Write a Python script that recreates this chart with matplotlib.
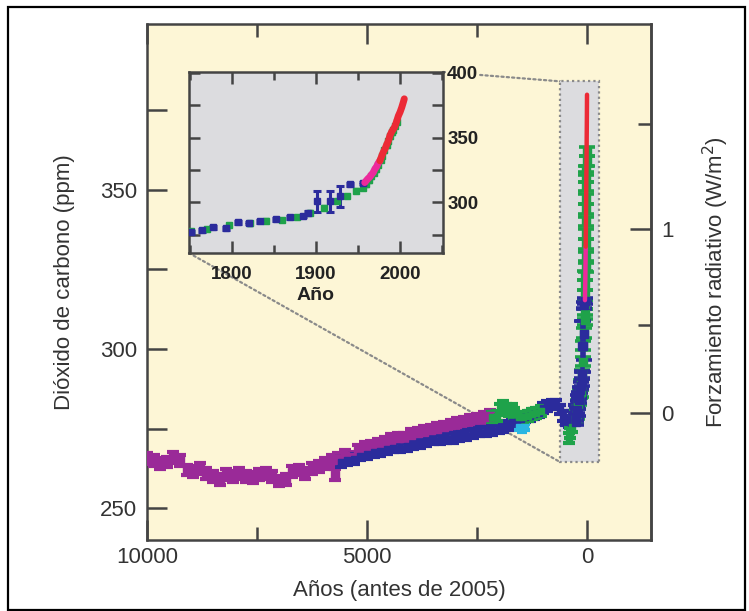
import numpy as np
import matplotlib
matplotlib.use("Agg")
import matplotlib.pyplot as plt
from matplotlib.patches import Rectangle, ConnectionPatch
from matplotlib.ticker import MultipleLocator, FixedLocator

plt.rcParams['font.family'] = ['Liberation Sans', 'DejaVu Sans']

# ---- ice core data, years before 2005 ----
purple_yr = [10000, 9850, 9700, 9550, 9400, 9250, 9100, 8950, 8800, 8650, 8500, 8350,
             8200, 8050, 7900, 7750, 7600, 7450, 7300, 7150, 7000, 6850, 6700, 6550,
             6400, 6250, 6100, 5950, 5800, 5720, 5650, 5500, 5350, 5200, 5050, 4900,
             4750, 4600, 4450, 4300, 4150, 4000, 3850, 3700, 3550, 3400, 3250, 3100,
             2950, 2800, 2650, 2500, 2350, 2200]
purple_ppm = [265.5, 265, 264, 264.5, 266, 265, 262, 261.5, 262.5, 261, 260, 259,
              260.5, 260, 261, 260, 259.5, 260.5, 261, 260, 258.5, 259, 261.5, 262,
              261, 262.5, 263, 264, 265, 260.5, 265.5, 266.5, 266, 268, 269, 269.5,
              270, 270.5, 271.5, 272, 272, 273, 273.5, 274, 274.5, 275, 275.5, 276,
              276.5, 277, 277.5, 278, 278.5, 279]

blue_yr = [5600, 5450, 5300, 5150, 5000, 4850, 4700, 4550, 4400, 4250, 4100, 3950,
           3800, 3650, 3500, 3350, 3200, 3050, 2900, 2750, 2600, 2450, 2300, 2150,
           2000, 1900, 1800, 1700, 1600, 1500, 1400, 1300, 1200, 1100, 1000, 900,
           800, 700, 620, 550, 480, 420, 350, 300]
blue_ppm = [264.5, 265, 265.5, 266.5, 267, 267.5, 268, 268.5, 269, 269, 269.5, 270,
            270.5, 271, 271.5, 271.5, 272, 272, 272.5, 273, 273.5, 274, 274, 274.5,
            275, 275.5, 276, 277, 277, 278, 278.5, 279, 279.5, 280, 281.5, 282,
            282.5, 282.5, 281, 279, 277.5, 277, 279, 281]

green_yr = [2150, 2050, 1980, 1900, 1850, 1780, 1700, 1650, 1550, 1450, 1350, 1250,
            1150, 1050, 420, 380, 330]
green_ppm = [278.5, 279, 281, 282, 281, 280.5, 281, 280, 278.5, 278.5, 279, 279.5,
             280, 280.5, 272, 273.5, 275.5]

cyan_yr = [1550, 1480, 1400]
cyan_ppm = [275.5, 275, 275.5]

# ---- last 250 years, calendar years ----
ld_blue_yr = [1751, 1765, 1777, 1793, 1807, 1820, 1833, 1853, 1869, 1885, 1890,
              1901, 1917, 1929, 1940, 1956]
ld_blue_ppm = [277, 278.5, 280.8, 280, 284.6, 284, 285.4, 287, 288.5, 289.5, 292,
               300.8, 300.8, 304.6, 313.8, 315]
ld_blue_err = [1, 1, 1, 1, 1, 1, 1, 1, 1, 1, 1, 8, 8, 8, 1, 1]

ld_green_yr = [1751, 1770, 1797, 1821, 1841, 1860, 1877, 1893, 1909, 1925, 1937,
               1948, 1956, 1960, 1963, 1966, 1969, 1971, 1974, 1977, 1979, 1981,
               1984, 1986, 1988, 1990, 1992, 1994, 1996]
ld_green_ppm = [278, 279.5, 282.6, 283.8, 286, 286.5, 288.6, 292, 296, 301, 305,
                309, 311, 314, 317, 320, 323, 325.5, 329, 333, 336, 340,
                344, 347, 351, 354, 356, 359, 362]

ml_yr = [1958, 1960, 1962, 1964, 1966, 1968, 1970, 1972, 1974, 1976, 1978, 1980,
         1982, 1984, 1986, 1988, 1990, 1992, 1994, 1996, 1998, 2000, 2002, 2004, 2005]
ml_ppm = [315.3, 316.9, 318.4, 319.6, 321.4, 323.0, 325.7, 327.5, 330.2, 332.1,
          335.4, 338.7, 341.1, 344.4, 347.2, 351.6, 354.4, 356.4, 358.8, 362.6,
          366.7, 369.6, 373.2, 377.5, 379.8]

PURPLE = '#9a2a98'
BLUE = '#2b2b9c'
GREEN = '#1fa24a'
CYAN = '#2ab6e2'
MAGENTA = '#ec2a9c'
RED = '#ec2a36'
TXT = '#333333'
SPINE = '#444444'
BG = '#fdf6d6'
GREY = '#dcdcdf'

fig = plt.figure(figsize=(7.49, 6.11), dpi=100)
ax = fig.add_axes([0.1963, 0.1162, 0.6729, 0.8445])
ax.set_facecolor(BG)

def eb(a, x, y, err, col, cap, lw=3.0, ms=5, z=3):
    a.errorbar(x, y, yerr=err, fmt='s', ms=ms, mfc=col, mec=col, ecolor=col,
               elinewidth=lw, capsize=cap, capthick=lw, zorder=z)

eb(ax, purple_yr, purple_ppm, 1.7, PURPLE, 4.3, ms=5.5)
eb(ax, blue_yr, blue_ppm, 1.5, BLUE, 4.0)
eb(ax, cyan_yr, cyan_ppm, 1.0, CYAN, 3.5)
eb(ax, green_yr, green_ppm, 1.6, GREEN, 4.0)

# last 250 years squeezed near 0
bp = lambda yrs: 2005 - np.array(yrs)
eb(ax, bp(ld_green_yr), ld_green_ppm, 1.5, GREEN, 5.5, lw=2.6, ms=6)
eb(ax, bp(ld_blue_yr), ld_blue_ppm, ld_blue_err, BLUE, 5.5, lw=2.6, ms=6)
ml_bp = bp(ml_yr)
ax.plot(ml_bp[:10], ml_ppm[:10], color=MAGENTA, lw=3.2, zorder=4, solid_capstyle='round')
ax.plot(ml_bp[9:], ml_ppm[9:], color=RED, lw=3.2, zorder=4, solid_capstyle='round')

ax.set_xlim(10000, -1455)
ax.set_ylim(240, 402)

# zoom box
bx0, bx1, by0, by1 = 614, -273, 264.5, 384
ax.add_patch(Rectangle((bx1, by0), bx0 - bx1, by1 - by0, facecolor=GREY,
                       edgecolor='#8a8a8a', linestyle=(0, (1, 1.4)), lw=1.6, zorder=1))

ax.xaxis.set_major_locator(MultipleLocator(5000))
ax.xaxis.set_minor_locator(MultipleLocator(2500))
ax.yaxis.set_major_locator(FixedLocator([250, 300, 350]))
ax.yaxis.set_minor_locator(FixedLocator([275, 325, 375]))
ax.tick_params(which='both', direction='in', top=True, right=False, color=SPINE,
               width=1.8, labelsize=16, labelcolor=TXT)
ax.tick_params(axis='x', which='major', length=14.5, pad=5)
ax.tick_params(axis='x', which='minor', length=9.5)
ax.tick_params(axis='y', which='both', length=14.5, pad=7)
for s in ax.spines.values():
    s.set_color(SPINE)
    s.set_linewidth(1.8)

ax.set_xlabel('Años (antes de 2005)', fontsize=16, color=TXT, labelpad=9)
ax.set_ylabel('Dióxido de carbono (ppm)', fontsize=16, color=TXT, labelpad=18)

sec = ax.secondary_yaxis('right', functions=(lambda c: 5.35 * np.log(np.clip(c, 1, None) / 280.0),
                                             lambda f: 280.0 * np.exp(f / 5.35)))
sec.set_yticks([0, 1])
sec.set_yticks([0.5, 1.5], minor=True)
sec.tick_params(which='both', direction='in', color=SPINE, width=1.8, labelsize=16,
                labelcolor=TXT, pad=7)
sec.tick_params(which='major', length=15)
sec.tick_params(which='minor', length=9.5)
sec.spines['right'].set_color(SPINE)
sec.spines['right'].set_linewidth(1.8)
sec.set_ylabel('Forzamiento radiativo (W/m$^2$)', fontsize=16, color=TXT, labelpad=20)

# inset
axins = fig.add_axes([0.2523, 0.5859, 0.3391, 0.2963])
axins.set_facecolor(GREY)
eb(axins, ld_green_yr, ld_green_ppm, 1.0, GREEN, 2.0, lw=2.4, ms=4)
eb(axins, ld_blue_yr, ld_blue_ppm, ld_blue_err, BLUE, 3.0, lw=2.2, ms=4)
axins.plot(ml_yr[:10], ml_ppm[:10], color=MAGENTA, lw=5, zorder=4, solid_capstyle='round')
axins.plot(ml_yr[9:], ml_ppm[9:], color=RED, lw=5, zorder=4, solid_capstyle='round')
axins.set_xlim(1749, 2051)
axins.set_ylim(261, 400.5)
axins.xaxis.set_major_locator(MultipleLocator(100))
axins.xaxis.set_minor_locator(MultipleLocator(50))
axins.yaxis.set_major_locator(MultipleLocator(50))
axins.yaxis.set_minor_locator(MultipleLocator(25))
axins.tick_params(which='both', direction='in', top=True, left=True, right=True,
                  labelleft=False, labelright=True, color=SPINE, width=1.8,
                  labelsize=13.5, labelcolor='#222222')
axins.tick_params(axis='x', which='major', length=8.5, pad=9)
axins.tick_params(axis='x', which='minor', length=6)
axins.tick_params(axis='y', which='both', length=8, pad=3)
for lab in axins.get_xticklabels() + axins.get_yticklabels():
    lab.set_fontweight('bold')
for lab in axins.get_yticklabels():
    lab.set_bbox(dict(facecolor=BG, edgecolor='none', pad=0.5))
for s in axins.spines.values():
    s.set_color(SPINE)
    s.set_linewidth(1.8)
axins.set_xlabel('Año', fontsize=14, fontweight='bold', color='#222222', labelpad=3)

# dotted connectors from inset to the zoom box
for xa, ya, yb in [(1, 1, by1), (0, 0, by0)]:
    cp = ConnectionPatch(xyA=(xa, ya), coordsA=axins.transAxes, xyB=(bx0, yb),
                         coordsB=ax.transData, color='#8a8a8a',
                         linestyle=(0, (1, 1.4)), lw=1.6, zorder=0.5)
    ax.add_artist(cp)

# outer frame
fig.patches.append(Rectangle((0.0107, 0.002), 0.984, 0.9865, transform=fig.transFigure,
                             fill=False, edgecolor='black', lw=1.6))

fig.savefig('out.png', dpi=100)
